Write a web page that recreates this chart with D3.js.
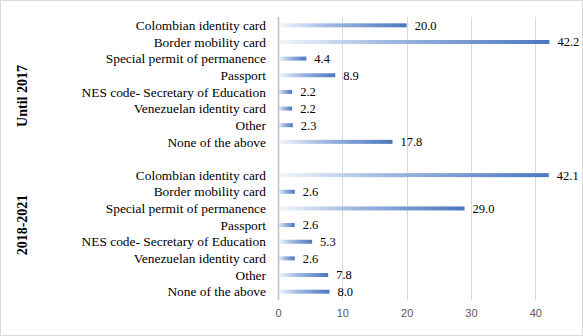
<!DOCTYPE html>
<html>
<head>
<meta charset="utf-8">
<script src="https://cdn.jsdelivr.net/npm/d3@7"></script>
<style>
  html, body { margin: 0; padding: 0; background: #fff; }
  svg { display: block; }
</style>
</head>
<body>
<svg id="chart" width="583" height="336"></svg>
<script>
// Document types held by period
const categories = [
  "Colombian identity card",
  "Border mobility card",
  "Special permit of permanence",
  "Passport",
  "NES code- Secretary of Education",
  "Venezuelan identity card",
  "Other",
  "None of the above"
];
const periods = ["Until 2017", "2018-2021"];
const valuesUntil2017 = [20.0, 42.2, 4.4, 8.9, 2.2, 2.2, 2.3, 17.8];
const values2018to2021 = [42.1, 2.6, 29.0, 2.6, 5.3, 2.6, 7.8, 8.0];
const xTicks = [0, 10, 20, 30, 40];

const seriesByPeriod = [valuesUntil2017, values2018to2021];

const svg = d3.select("#chart");
const W = 583, H = 336;

// outer chart frame
svg.append("rect")
  .attr("x", 0.5).attr("y", 0.5)
  .attr("width", W - 1).attr("height", H - 1)
  .attr("fill", "#fff").attr("stroke", "#d9d9d9");

// one row per category in each period, with an empty row between periods
const rows = [];
periods.forEach((p, pi) => {
  if (pi > 0) rows.push({ key: "gap-" + pi, gap: true });
  categories.forEach((c, ci) => {
    rows.push({ key: p + "|" + c, period: p, pi, category: c, value: seriesByPeriod[pi][ci] });
  });
});

const plot = { left: 278, top: 17, bottom: 300 };
const x = d3.scaleLinear().domain([0, 40]).range([plot.left, 535.3]);
const y = d3.scaleBand().domain(rows.map(r => r.key)).range([plot.top, plot.bottom]);

// bar gradient: pale at the base, full blue at the tip
const defs = svg.append("defs");
const grad = defs.append("linearGradient").attr("id", "barGrad")
  .attr("x1", "0").attr("x2", "1").attr("y1", "0").attr("y2", "0");
grad.append("stop").attr("offset", "0%").attr("stop-color", "#f4f7fc");
grad.append("stop").attr("offset", "40%").attr("stop-color", "#9fb8e0");
grad.append("stop").attr("offset", "100%").attr("stop-color", "#4a77bf");

// vertical gridlines
svg.append("g").selectAll("line")
  .data(xTicks.filter(t => t > 0))
  .join("line")
  .attr("x1", d => Math.round(x(d)) + 0.5).attr("x2", d => Math.round(x(d)) + 0.5)
  .attr("y1", plot.top).attr("y2", plot.bottom)
  .attr("stroke", "#d9d9d9").attr("stroke-width", 1);

// bottom axis tick labels
const xAxis = d3.axisBottom(x).tickValues(xTicks).tickSize(0).tickPadding(0).tickFormat(d3.format("d"));
const gx = svg.append("g")
  .attr("transform", `translate(0,${plot.bottom + 9})`)
  .call(xAxis);
gx.select(".domain").remove();
gx.selectAll("text")
  .attr("fill", "#595959")
  .attr("font-family", "'Liberation Sans', Arial, sans-serif")
  .attr("font-size", 11);

const data = rows.filter(r => !r.gap);
const barH = 4;

// bars
svg.append("g").selectAll("rect")
  .data(data)
  .join("rect")
  .attr("x", x(0))
  .attr("y", d => y(d.key) + y.bandwidth() / 2 - barH / 2)
  .attr("width", d => x(d.value) - x(0))
  .attr("height", barH)
  .attr("fill", "url(#barGrad)");

// category axis line
svg.append("line")
  .attr("x1", plot.left + 0.5).attr("x2", plot.left + 0.5)
  .attr("y1", plot.top).attr("y2", plot.bottom)
  .attr("stroke", "#bfbfbf").attr("stroke-width", 1.5);

// value labels
svg.append("g").selectAll("text")
  .data(data)
  .join("text")
  .attr("x", d => x(d.value) + 8)
  .attr("y", d => y(d.key) + y.bandwidth() / 2)
  .attr("dy", "0.35em")
  .attr("font-family", "'Liberation Serif', 'Times New Roman', serif")
  .attr("font-size", 12.5)
  .attr("fill", "#000")
  .text(d => d3.format(".1f")(d.value));

// category labels
svg.append("g").selectAll("text")
  .data(data)
  .join("text")
  .attr("x", 266)
  .attr("y", d => y(d.key) + y.bandwidth() / 2)
  .attr("dy", "0.35em")
  .attr("text-anchor", "end")
  .attr("font-family", "'Liberation Serif', 'Times New Roman', serif")
  .attr("font-size", 13.4)
  .attr("fill", "#000")
  .text(d => d.category);

// period labels, rotated
const periodLabelY = [96, 225];
svg.append("g").selectAll("text")
  .data(periods)
  .join("text")
  .attr("transform", (d, i) => `translate(22,${periodLabelY[i]}) rotate(-90)`)
  .attr("text-anchor", "middle")
  .attr("dy", "0.35em")
  .attr("font-family", "'Liberation Serif', 'Times New Roman', serif")
  .attr("font-size", 14)
  .attr("font-weight", "bold")
  .attr("fill", "#000")
  .text(d => d);
</script>
</body>
</html>
